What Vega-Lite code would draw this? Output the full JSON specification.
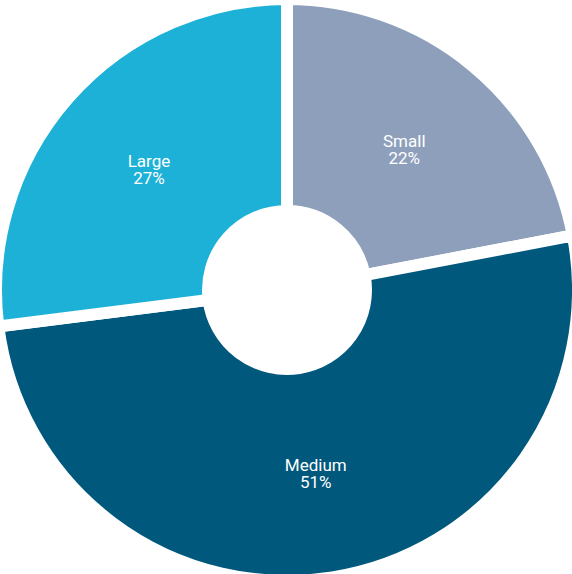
{
  "$schema": "https://vega.github.io/schema/vega-lite/v6.json",
  "width": 574,
  "height": 580,
  "padding": 0,
  "autosize": "none",
  "background": "white",
  "view": {"stroke": null},
  "data": {"values": [
    {"category": "Small", "value": 22, "label": "Small\n22%", "order": 1},
    {"category": "Medium", "value": 51, "label": "Medium\n51%", "order": 2},
    {"category": "Large", "value": 27, "label": "Large\n27%", "order": 3}
  ]},
  "encoding": {
    "theta": {"field": "value", "type": "quantitative", "stack": true},
    "order": {"field": "order", "type": "quantitative"}
  },
  "layer": [
    {
      "mark": {"type": "arc", "outerRadius": 291, "innerRadius": 79, "stroke": "white", "strokeWidth": 12},
      "encoding": {
        "color": {"field": "category", "type": "nominal", "legend": null,
          "scale": {"domain": ["Small", "Medium", "Large"], "range": ["#8E9FBC", "#00587C", "#1DB1D8"]}}
      }
    },
    {
      "mark": {"type": "text", "radius": 184, "dy": -6, "fill": "white", "font": "Roboto", "fontSize": 17, "lineBreak": "\n", "lineHeight": 17, "baseline": "middle", "align": "center"},
      "encoding": {"text": {"field": "label", "type": "nominal"}}
    }
  ]
}
